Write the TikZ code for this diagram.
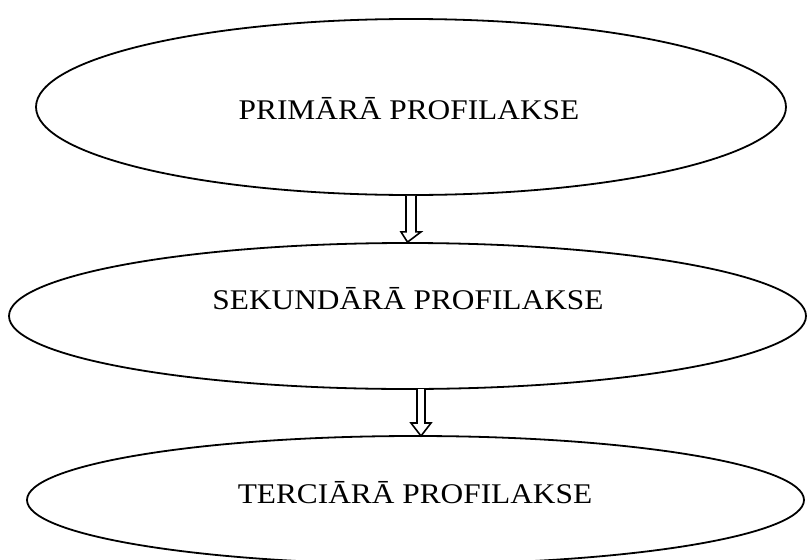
\documentclass[tikz,border=0pt]{standalone}
\usepackage{fontspec}
\setmainfont{Liberation Serif}
\usetikzlibrary{shapes.geometric}
\newcommand{\widetext}[1]{\scalebox{1.1}[1]{#1}}
\tikzset{
  stage/.style={ellipse, draw, line width=1.8pt, inner sep=0pt},
  label/.style={font=\fontsize{28.5}{33}\selectfont, anchor=base, inner sep=0pt},
  hollow/.style={draw, line width=1.6pt, fill=white, line join=miter}
}
\begin{document}
\begin{tikzpicture}[x=1pt,y=-1pt]
\useasboundingbox (0,0) rectangle (807,560);
\clip (0,0) rectangle (807,560);
\node[stage, minimum width=750pt, minimum height=176pt] (e1) at (411,107) {};
\node[stage, minimum width=797pt, minimum height=146pt] (e2) at (407.5,316) {};
\node[stage, minimum width=777pt, minimum height=128pt] (e3) at (415.5,500) {};
\node[label] (t1) at (409,119) {\widetext{PRIMĀRĀ PROFILAKSE}};
\node[label] (t2) at (408,309) {\widetext{SEKUNDĀRĀ PROFILAKSE}};
\node[label] (t3) at (415,503) {\widetext{TERCIĀRĀ PROFILAKSE}};
% hollow arrows
\coordinate (a1s) at (e1.south);
\coordinate (a1t) at (e2.north);
\draw[hollow] ([xshift=-5pt]a1s) -- ([xshift=-5pt,yshift=-36pt]a1s) -- ([xshift=-10pt,yshift=-36pt]a1s)
  -- (a1t) -- ([xshift=10pt,yshift=-36pt]a1s) -- ([xshift=5pt,yshift=-36pt]a1s) -- ([xshift=5pt]a1s);
\coordinate (a2s) at (421,389);
\coordinate (a2t) at (421,436);
\draw[hollow] ([xshift=-4pt]a2s) -- ([xshift=-4pt]a2s |- 0,423) -- ([xshift=-10pt]a2s |- 0,423)
  -- (a2t) -- ([xshift=10pt]a2s |- 0,423) -- ([xshift=4pt]a2s |- 0,423) -- ([xshift=4pt]a2s);
\end{tikzpicture}
\end{document}
